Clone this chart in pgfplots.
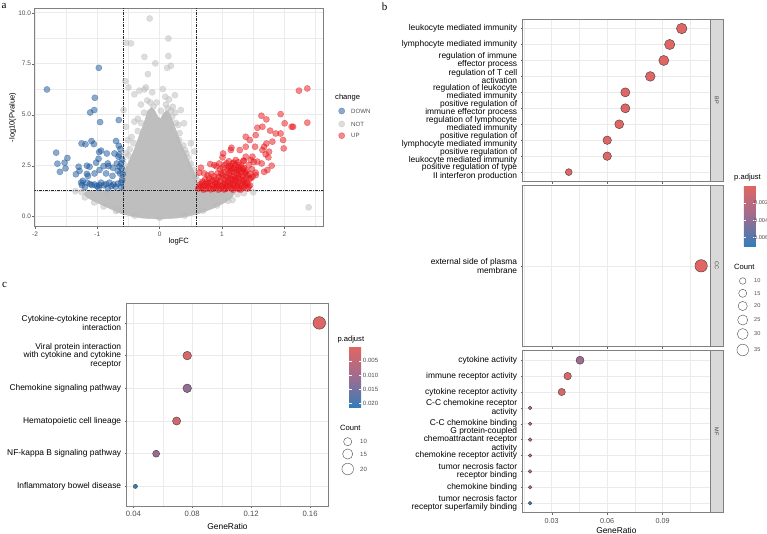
\documentclass[border=0pt]{standalone}
\usepackage{fontspec}
\setmainfont{Liberation Sans}
\newfontfamily\letterfont{Liberation Serif}
\usepackage{pgfplots}
\usepackage{pgfplotstable}
\pgfplotsset{compat=1.18}

\definecolor{gridc}{HTML}{EBEBEB}
\definecolor{framec}{HTML}{808080}
\definecolor{downc}{HTML}{1A5599}
\definecolor{notc}{HTML}{BBBBBB}
\definecolor{upc}{HTML}{E8141A}
\definecolor{densec}{HTML}{BEBEBE}
\definecolor{stripc}{HTML}{D9D9D9}
\definecolor{tickc}{HTML}{4D4D4D}

\newcommand\fTick{\fontsize{6.5}{7.5}\selectfont}
\newcommand\fTickB{\fontsize{7.2}{8}\selectfont}
\newcommand\fTickC{\fontsize{7.7}{8.5}\selectfont}
\newcommand\fLab{\fontsize{7.6}{8.5}\selectfont}
\newcommand\fCat{\fontsize{8.4}{8.6}\selectfont}
\newcommand\fLeg{\fontsize{6.1}{7}\selectfont}
\newcommand\fLegS{\fontsize{5.6}{6.5}\selectfont}
\newcommand\fLegT{\fontsize{7.6}{8.5}\selectfont}
\newcommand\fStrip{\fontsize{5.5}{6}\selectfont}
\newcommand\fLetter{\letterfont\fontsize{11}{12}\selectfont}

\pgfplotsset{
  /pgf/number format/assume math mode=true,
  colormap={padj}{rgb255=(224,102,99) rgb255=(158,108,143) rgb255=(50,126,186)},
  ggbase/.style={
    scale only axis, anchor=north west, clip=true,
    axis line style={framec, line width=0.6pt},
    grid=both,
    major grid style={gridc, line width=0.55pt},
    minor grid style={gridc, line width=0.3pt},
    tick align=outside,
    major tick length=2pt, minor tick length=0pt,
    tick style={black!60, line width=0.4pt},
    xtick pos=left, ytick pos=left,
    scaled x ticks=false, scaled y ticks=false,
  },
  cbar/.style={
    colorbar,
    colorbar style={
      at={(parent axis.north east)}, anchor=north west,
      scale only axis, width=12pt, height=61pt,
      y dir=reverse,
      yticklabel pos=right, ytick pos=both,
      tick align=inside,
      major tick length=2.4pt,
      tick style={white, line width=0.6pt},
      axis line style={draw=none},
      grid=none, scaled y ticks=false,
      yticklabel style={/pgf/number format/fixed, /pgf/number format/fixed zerofill, /pgf/number format/precision=3, font=\fLegS, text=tickc, inner sep=0.3pt},
    },
  },
  enrichB/.style={
    ggbase, width=187.3pt,
    y dir=reverse,
    xtick={0.03,0.06,0.09},
    minor xtick={0.015,0.045,0.075,0.105},
    xmin=0.0143, xmax=0.1156,
    point meta min=0, point meta max=0.00705,
    yticklabel style={font=\fCat, align=right, text=black},
    xticklabel style={/pgf/number format/fixed, /pgf/number format/fixed zerofill, /pgf/number format/precision=2, font=\fTickB, text=tickc},
  },
  dots/.style={
    scatter, only marks, mark=*,
    scatter src=explicit,
    scatter/use mapped color={draw=black!80, fill=mapped color},
    mark options={line width=0.35pt},
    scatter/@pre marker code/.append style={/tikz/mark size=\psize},
  },
  legcirc/.style={
    scatter, only marks, mark=*,
    scatter src=explicit,
    scatter/use mapped color={draw=black!70, fill=white},
    mark options={line width=0.4pt},
    scatter/@pre marker code/.append style={/tikz/mark size=\psize},
  },
}

\begin{document}
\begin{tikzpicture}
\path[use as bounding box] (0,0) rectangle (767pt,534pt);

% ---------------- overlay axis in pixel coordinates (legends, strips, letters)
\begin{axis}[at={(0pt,0pt)}, anchor=south west, scale only axis, width=767pt, height=534pt,
  xmin=0, xmax=767, ymin=0, ymax=534, y dir=reverse, hide axis, clip=false]
  % panel letters
  \node[font=\fLetter, anchor=center] at (axis cs:4,6) {a};
  \node[font=\fLetter, anchor=center] at (axis cs:384.5,7) {b};
  \node[font=\fLetter, anchor=center] at (axis cs:4.5,285) {c};
  % facet strips
  \fill[stripc, draw=framec, line width=0.5pt] (axis cs:710,19) rectangle (axis cs:723.3,181.7);
  \fill[stripc, draw=framec, line width=0.5pt] (axis cs:710,185) rectangle (axis cs:723.3,346.7);
  \fill[stripc, draw=framec, line width=0.5pt] (axis cs:710,350.7) rectangle (axis cs:723.3,512.7);
  \node[font=\fStrip, text=black!75, rotate=-90] at (axis cs:716.7,100.3) {BP};
  \node[font=\fStrip, text=black!75, rotate=-90] at (axis cs:716.7,265.8) {CC};
  \node[font=\fStrip, text=black!75, rotate=-90] at (axis cs:716.7,431.7) {MF};
  % legend of panel a
  \node[font=\fLegT, anchor=west, inner sep=0pt] at (axis cs:335,97.7) {change};
  \addplot[only marks, mark=*, mark size=3.1pt, color=downc, opacity=0.5] coordinates {(341.7,111)};
  \addplot[only marks, mark=*, mark size=3.1pt, color=notc, opacity=0.5] coordinates {(341.7,124)};
  \addplot[only marks, mark=*, mark size=3.1pt, color=upc, opacity=0.5] coordinates {(341.7,135.7)};
  \node[font=\fLeg, text=tickc, anchor=west, inner sep=0pt] at (axis cs:351,111) {DOWN};
  \node[font=\fLeg, text=tickc, anchor=west, inner sep=0pt] at (axis cs:351,124) {NOT};
  \node[font=\fLeg, text=tickc, anchor=west, inner sep=0pt] at (axis cs:351,135.7) {UP};
  % legend titles of panels b and c
  \node[font=\fLegT, anchor=west, inner sep=0pt] at (axis cs:734,177.7) {p.adjust};
  \node[font=\fLegT, anchor=west, inner sep=0pt] at (axis cs:734,267.3) {Count};
  \node[font=\fLegT, anchor=west, inner sep=0pt] at (axis cs:337.3,339.3) {p.adjust};
  \node[font=\fLegT, anchor=west, inner sep=0pt] at (axis cs:340,428.3) {Count};
  % size legend of panel b
  \addplot[legcirc, visualization depends on={1.8+4.4*sqrt((\thisrow{c}-6)/35) \as \psize}]
    table[x=x, y=y, meta=c] {
x y c
742.7 281 10
742.7 293.3 15
742.7 306 20
742.7 320 25
742.7 334 30
742.7 350 35
};
  \node[font=\fLegS, text=tickc, anchor=west, inner sep=0pt] at (axis cs:754,281) {10};
  \node[font=\fLegS, text=tickc, anchor=west, inner sep=0pt] at (axis cs:754,293.3) {15};
  \node[font=\fLegS, text=tickc, anchor=west, inner sep=0pt] at (axis cs:754,306) {20};
  \node[font=\fLegS, text=tickc, anchor=west, inner sep=0pt] at (axis cs:754,320) {25};
  \node[font=\fLegS, text=tickc, anchor=west, inner sep=0pt] at (axis cs:754,334) {30};
  \node[font=\fLegS, text=tickc, anchor=west, inner sep=0pt] at (axis cs:754,350) {35};
  % size legend of panel c
  \addplot[legcirc, visualization depends on={2.1+4.2*sqrt((\thisrow{c}-6)/18) \as \psize}]
    table[x=x, y=y, meta=c] {
x y c
347.7 441.7 10
347.7 454 15
347.7 469 20
};
  \node[font=\fLeg, text=tickc, anchor=west, inner sep=0pt] at (axis cs:360,441.7) {10};
  \node[font=\fLeg, text=tickc, anchor=west, inner sep=0pt] at (axis cs:360,454) {15};
  \node[font=\fLeg, text=tickc, anchor=west, inner sep=0pt] at (axis cs:360,469) {20};
\end{axis}

% ---------------- panel a : volcano plot
\begin{axis}[ggbase, at={(34.3pt,525.7pt)}, width=289pt, height=218.4pt,
  xmin=-2.011, xmax=2.625, ymin=-0.49, ymax=10.22,
  xtick={-2,-1,0,1,2}, minor xtick={-1.5,-0.5,0.5,1.5,2.5},
  ytick={0,2.5,5,7.5,10}, minor ytick={1.25,3.75,6.25,8.75},
  xticklabel style={font=\fTick, text=tickc},
  yticklabel style={/pgf/number format/fixed, /pgf/number format/fixed zerofill, /pgf/number format/precision=1, font=\fTick, text=tickc, inner sep=1.2pt},
  xlabel={logFC}, ylabel={-log10(Pvalue)},
  xlabel style={font=\fLab, at={(axis description cs:0.5,-0.070)}, anchor=center},
  ylabel style={font=\fLab, at={(axis description cs:-0.0747,0.5)}, anchor=center},
]
% dense core of the non-significant genes
\addplot[fill=densec, draw=densec, line width=0.5pt] coordinates {
(0,-0.12) (0.3,-0.06) (0.6,0.12) (0.85,0.4) (1.06,0.72) (1.16,0.95) (1.2,1.15) (1.12,1.26)
(0.62,1.28) (0.6,1.6) (0.58,2.0) (0.52,2.4) (0.46,2.8) (0.4,3.2) (0.34,3.6) (0.28,4.1)
(0.22,4.6) (0.17,5.0) (0.12,5.2) (0.07,5.1) (0.02,4.8) (-0.03,4.9) (-0.08,5.2) (-0.13,5.35)
(-0.19,5.2) (-0.24,4.7) (-0.3,4.2) (-0.36,3.7) (-0.42,3.2) (-0.48,2.8) (-0.54,2.4)
(-0.58,2.0) (-0.6,1.7) (-0.62,1.3) (-1.15,1.28) (-1.22,1.12) (-1.14,0.9) (-0.97,0.64)
(-0.8,0.4) (-0.59,0.12) (-0.3,-0.06)
} --cycle;
\addplot[only marks, mark=*, mark size=3.1pt, color=notc, opacity=0.5] table {
x y
-0.16 9.72
0.14 8.74
-0.54 8.53
-0.46 8.5
-0.245 7.84
0.14 7.88
-0.07 7.52
0.18 7.4
0.12 7.3
-0.19 6.99
-0.55 6.65
-0.5 6.34
-0.22 6.34
-0.245 6.24
-0.325 6.18
0.05 6.26
0.09 5.88
0.245 5.96
-0.405 6.0
-0.58 5.23
0.34 5.23
0.21 5.39
-0.54 4.41
-0.405 4.66
0.39 4.58
0.31 3.76
0.405 3.27
-0.51 3.76
-0.55 3.1
0.56 3.2
1.17 0.82
2.39 0.46
0.85 1.06
-0.67 0.33
-0.3 5.5
-0.12 6.1
0.15 5.75
0.3 4.5
-0.45 3.9
0.45 2.9
-0.58 2.6
0.55 2.3
-0.6 1.9
0.6 1.8
0.5 3.6
-0.35 4.8
0.25 5.1
-0.48 3.3
0.58 2.0
-1.25 1.2
-1.2 0.95
-1.05 0.7
1.25 1.1
1.1 0.78
0.92 0.55
-0.9 0.5
0.7 0.3
-0.7 0.28
0.4 0.05
-0.4 0.05
0.0 -0.05
1.35 1.15
1.5 1.2
1.0 1.2
-1.35 1.25
-0.85 1.15
-0.15 5.6
-0.1 5.4
-0.2 5.7
0.1 5.5
0.13 5.3
0.18 5.2
-0.25 5.1
0.02 5.2
0.08 4.9
-0.05 5.6
0.2 4.9
-0.3 4.6
0.26 4.6
-0.35 4.2
0.32 4.1
-0.42 3.6
0.38 3.5
0.43 3.1
-0.5 3.0
0.5 2.6
-0.55 2.3
};
\addplot[only marks, mark=*, mark size=3.1pt, color=downc, opacity=0.5] table {
x y
-1.808 6.24
-0.976 7.30
-1.04 5.83
-1.05 5.23
-1.115 5.11
-0.955 4.64
-0.656 4.74
-1.253 3.59
-1.19 3.55
-1.093 3.71
-1.056 3.56
-0.70 3.71
-0.656 3.48
-0.63 3.32
-1.66 3.14
-1.48 2.88
-1.525 2.65
-1.64 2.60
-1.51 2.37
-1.60 2.20
-1.344 2.08
-1.285 2.25
-1.30 2.45
-1.168 2.50
-1.125 2.45
-0.97 3.17
-0.94 3.24
-0.848 3.10
-0.725 3.10
-0.98 2.84
-0.832 2.61
-0.82 2.48
-0.965 2.29
-1.168 2.10
-1.045 2.12
-1.15 2.00
-0.688 2.61
-0.661 2.94
-0.62 2.61
-0.645 2.45
-0.86 2.12
-0.757 2.00
-0.672 2.25
-0.635 2.12
-1.26 1.67
-1.248 1.55
-1.163 1.67
-1.115 1.60
-1.045 1.58
-0.965 1.55
-0.94 1.67
-0.86 1.60
-0.805 1.67
-0.741 1.58
-0.672 1.62
-0.619 1.67
-0.603 1.80
-1.232 1.76
-1.088 1.55
-1.008 1.50
-0.896 1.54
-0.773 1.50
-0.709 1.47
-0.592 2.09
-0.608 2.37
-0.752 2.40
-0.90 2.48
-1.019 2.65
-1.20 1.45
-0.62 1.45
-0.98 1.42
-0.83 1.40
-0.65 3.05
-0.60 2.80
};
\addplot[only marks, mark=*, mark size=3.1pt, color=upc, opacity=0.5] table {
x y
2.235 6.18
2.368 6.29
2.368 4.61
2.117 4.41
2.14 4.41
2.005 4.58
1.94 5.03
1.98 3.76
1.99 3.35
1.94 4.08
1.861 4.08
1.632 4.95
1.712 4.77
1.648 4.41
1.771 4.22
1.568 4.36
1.541 4.00
1.381 3.92
1.445 3.76
1.531 3.43
1.675 3.43
1.712 3.59
1.808 3.68
1.755 3.19
1.701 3.06
1.648 3.27
1.488 2.94
1.568 2.70
1.637 2.61
1.744 2.91
1.797 2.50
1.728 2.29
1.675 2.20
1.541 2.04
1.461 1.88
1.371 2.20
1.285 3.27
1.141 3.27
1.152 3.38
1.008 2.91
1.019 3.10
0.955 2.61
0.875 2.53
0.811 2.58
0.661 2.40
0.635 2.16
0.715 2.12
1.381 3.43
1.381 2.94
1.344 2.75
1.461 2.78
1.168 2.61
1.221 2.78
1.275 2.53
1.104 2.45
1.195 2.37
0.62 1.38
0.67 1.46
0.74 1.36
0.79 1.43
0.86 1.37
0.91 1.45
0.98 1.39
1.03 1.34
1.09 1.44
1.16 1.37
1.21 1.42
1.27 1.35
1.33 1.41
1.41 1.38
0.65 1.58
0.71 1.52
0.77 1.60
0.85 1.53
0.89 1.62
0.95 1.51
1.01 1.57
1.07 1.50
1.13 1.60
1.19 1.53
1.25 1.58
1.31 1.50
1.37 1.61
1.45 1.54
0.69 1.72
0.75 1.67
0.82 1.75
0.91 1.68
0.96 1.74
1.04 1.66
1.10 1.73
1.14 1.67
1.22 1.76
1.26 1.69
1.34 1.72
1.39 1.66
0.79 1.88
0.90 1.82
0.99 1.89
1.05 1.81
1.13 1.87
1.17 1.83
1.23 1.90
1.31 1.84
1.35 1.80
1.44 1.87
0.77 2.03
0.87 1.97
1.01 2.04
1.07 1.96
1.15 2.02
1.19 1.97
1.27 2.05
1.33 1.98
1.41 2.03
1.49 1.96
0.93 2.13
1.04 2.18
1.11 2.12
1.19 2.19
1.24 2.11
1.31 2.17
1.37 2.12
1.54 2.16
0.97 2.33
1.09 2.27
1.17 2.34
1.23 2.28
1.29 2.32
1.39 2.26
1.48 2.33
0.91 2.47
1.04 2.53
1.14 2.48
1.21 2.52
1.31 2.46
1.43 2.53
1.11 2.72
1.26 2.67
1.35 2.73
1.51 2.68
0.64 1.48
0.70 1.33
0.76 1.50
0.82 1.34
0.88 1.47
0.94 1.33
1.00 1.48
1.06 1.36
1.12 1.49
1.18 1.32
1.24 1.48
1.30 1.33
1.36 1.48
1.43 1.46
0.68 1.63
0.80 1.64
0.93 1.62
1.05 1.63
1.17 1.62
1.29 1.63
1.41 1.62
0.73 1.82
0.85 1.80
0.95 1.95
1.09 1.92
1.21 1.82
1.27 1.93
1.39 1.92
0.83 2.10
0.99 2.12
1.14 2.22
1.27 2.24
1.34 2.33
1.45 2.10
1.01 2.40
1.12 2.38
1.26 2.41
1.35 2.40
1.19 2.65
1.07 2.62
};
\addplot[black!85, line width=0.6pt, dash pattern=on 3pt off 1.2pt on 0.6pt off 1.2pt] coordinates {(-0.585,-1) (-0.585,11)};
\addplot[black!85, line width=0.6pt, dash pattern=on 3pt off 1.2pt on 0.6pt off 1.2pt] coordinates {(0.585,-1) (0.585,11)};
\addplot[black!85, line width=0.6pt, dash pattern=on 3pt off 1.2pt on 0.6pt off 1.2pt] coordinates {(-3,1.301) (3,1.301)};
\end{axis}

% ---------------- panel b : BP
\begin{axis}[enrichB, at={(522.7pt,515pt)}, height=162.7pt, ymin=0.4, ymax=10.6,
  ytick={1,...,10}, xticklabels={},
  yticklabels={leukocyte mediated immunity, lymphocyte mediated immunity,
    {regulation of immune\\effector process}, {regulation of T cell\\activation},
    {regulation of leukocyte\\mediated immunity}, {positive regulation of\\immune effector process},
    {regulation of lymphocyte\\mediated immunity}, {positive regulation of\\lymphocyte mediated immunity},
    {positive regulation of\\leukocyte mediated immunity}, {positive regulation of type\\II interferon production}},
]
\addplot[dots, visualization depends on={1.8+4.4*sqrt((\thisrow{count}-6)/35) \as \psize}]
  table[x=ratio, y=y, meta=p] {
y ratio count p
1 0.1003 28 0.00005
2 0.0938 26 0.00005
3 0.0906 25 0.00005
4 0.0833 23 0.00005
5 0.0698 20 0.00005
6 0.0698 20 0.00005
7 0.0665 19 0.00005
8 0.0600 17 0.00005
9 0.0600 17 0.00005
10 0.0392 11 0.0001
};
\end{axis}

% ---------------- panel b : CC
\begin{axis}[enrichB, cbar, at={(522.7pt,349pt)}, height=161.7pt, ymin=0.4, ymax=1.6,
  ytick={1}, xticklabels={},
  yticklabels={{external side of plasma\\membrane}},
  colorbar style={xshift=25.3pt, yshift=-0.7pt, ytick={0.002,0.004,0.006}, yticklabel style={xshift=-2.2pt}},
]
\addplot[dots, visualization depends on={1.8+4.4*sqrt((\thisrow{count}-6)/35) \as \psize}]
  table[x=ratio, y=y, meta=p] {
y ratio count p
1 0.1108 41 0.00005
};
\end{axis}

% ---------------- panel b : MF
\begin{axis}[enrichB, at={(522.7pt,183.3pt)}, height=162pt, ymin=0.4, ymax=10.6,
  ytick={1,...,10},
  yticklabels={cytokine activity, immune receptor activity, cytokine receptor activity,
    {C-C chemokine receptor\\activity}, C-C chemokine binding,
    {G protein-coupled\\chemoattractant receptor\\activity}, chemokine receptor activity,
    {tumor necrosis factor\\receptor binding}, chemokine binding,
    {tumor necrosis factor\\receptor superfamily binding}},
  xlabel={GeneRatio},
  xlabel style={font=\fCat, at={(axis description cs:0.5,-0.1068)}, anchor=center},
]
\addplot[dots, visualization depends on={1.8+4.4*sqrt((\thisrow{count}-6)/35) \as \psize}]
  table[x=ratio, y=y, meta=p] {
y ratio count p
1 0.0453 15 0.0035
2 0.0386 13 0.0004
3 0.0354 12 0.0004
4 0.0183 6 0.0012
5 0.0183 6 0.0012
6 0.0183 6 0.0012
7 0.0183 6 0.0012
8 0.0183 6 0.0012
9 0.0183 6 0.0012
10 0.0183 6 0.00705
};
\end{axis}

% ---------------- panel c : KEGG
\begin{axis}[ggbase, cbar, at={(126.7pt,230.7pt)}, width=201.6pt, height=202.7pt,
  y dir=reverse, ymin=0.4, ymax=6.6, ytick={1,...,6},
  xmin=0.0355, xmax=0.1724, xtick={0.04,0.08,0.12,0.16}, minor xtick={0.06,0.10,0.14},
  xticklabel style={/pgf/number format/fixed, /pgf/number format/fixed zerofill, /pgf/number format/precision=2, font=\fTickC, text=tickc},
  yticklabel style={font=\fCat, align=right, text=black},
  yticklabels={{Cytokine-cytokine receptor\\interaction}, {Viral protein interaction\\with cytokine and cytokine\\receptor},
    Chemokine signaling pathway, Hematopoietic cell lineage, NF-kappa B signaling pathway, Inflammatory bowel disease},
  point meta min=0, point meta max=0.0216,
  xlabel={GeneRatio},
  xlabel style={font=\fCat, at={(axis description cs:0.5,-0.0987)}, anchor=center},
  colorbar style={xshift=12.4pt, yshift=-43.4pt, ytick={0.005,0.010,0.015,0.020}, yticklabel style={font=\fLeg, inner sep=1.5pt}},
]
\addplot[dots, visualization depends on={2.1+4.2*sqrt((\thisrow{count}-6)/18) \as \psize}]
  table[x=ratio, y=y, meta=p] {
y ratio count p
1 0.1663 24 0.0003
2 0.0766 11 0.0015
3 0.0766 11 0.0120
4 0.0694 10 0.0025
5 0.0555 8 0.0110
6 0.0414 6 0.0216
};
\end{axis}
\end{tikzpicture}
\end{document}
